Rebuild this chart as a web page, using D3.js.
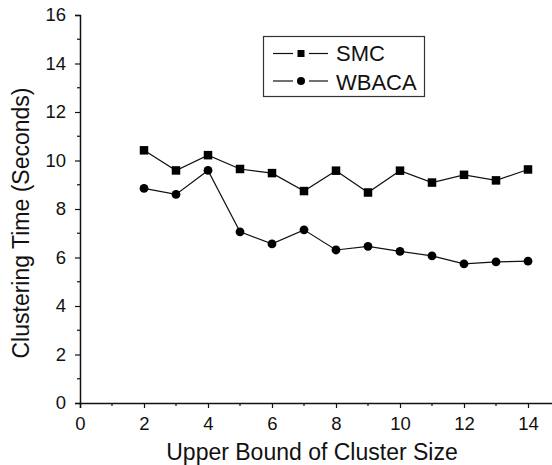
<!DOCTYPE html>
<html>
<head>
<meta charset="utf-8">
<script src="https://cdn.jsdelivr.net/npm/d3@7/dist/d3.min.js"></script>
<style>
  html, body { margin: 0; padding: 0; background: #fff; }
  svg { display: block; font-family: "Liberation Sans", Arial, sans-serif; }
</style>
</head>
<body>
<svg id="chart" width="552" height="465"></svg>
<script>
// Upper bound of cluster size (x) and clustering time in seconds for each method
const clusterSizes = [2, 3, 4, 5, 6, 7, 8, 9, 10, 11, 12, 13, 14];
const smcTimes   = [10.42, 9.59, 10.22, 9.65, 9.48, 8.74, 9.58, 8.68, 9.58, 9.09, 9.41, 9.18, 9.63];
const wbacaTimes = [8.85, 8.60, 9.59, 7.06, 6.56, 7.14, 6.31, 6.46, 6.25, 6.07, 5.74, 5.82, 5.85];
const seriesNames = ["SMC", "WBACA"];
const xTicks = [0, 2, 4, 6, 8, 10, 12, 14];
const yTicks = [0, 2, 4, 6, 8, 10, 12, 14, 16];

const svg = d3.select("#chart");
const plotLeft = 80, plotTop = 15, plotBottom = 403;

const x = d3.scaleLinear().domain([0, 15]).range([plotLeft, 560]);
const y = d3.scaleLinear().domain([0, 16]).range([plotBottom, plotTop]);

const ink = "#111";

// Y axis: major ticks with labels, minor ticks in between
const yAxis = svg.append("g").attr("transform", `translate(${plotLeft},0)`)
  .call(d3.axisLeft(y).tickValues(yTicks).tickSize(5).tickPadding(9).tickFormat(d3.format("d")));
yAxis.append("g").attr("class", "minor").selectAll("line")
  .data(d3.range(1, 16, 2)).join("line")
  .attr("x1", -3).attr("x2", 0).attr("y1", d => y(d)).attr("y2", d => y(d));

// X axis
const xAxis = svg.append("g").attr("transform", `translate(0,${plotBottom})`)
  .call(d3.axisBottom(x).tickValues(xTicks).tickSize(5).tickPadding(9).tickFormat(d3.format("d")));
xAxis.append("g").attr("class", "minor").selectAll("line")
  .data(d3.range(1, 15, 2)).join("line")
  .attr("y1", 0).attr("y2", 3).attr("x1", d => x(d)).attr("x2", d => x(d));

svg.selectAll(".domain").attr("stroke", ink).attr("stroke-width", 1.5);
svg.selectAll(".tick line, .minor line").attr("stroke", ink).attr("stroke-width", 1.2);
svg.selectAll(".tick text").attr("font-size", 18.5).attr("fill", ink)
  .attr("font-family", "'Liberation Sans', Arial, sans-serif");

// Axis titles
svg.append("text")
  .attr("x", 312).attr("y", 460)
  .attr("text-anchor", "middle").attr("font-size", 23).attr("fill", ink)
  .text("Upper Bound of Cluster Size");
svg.append("text")
  .attr("transform", "translate(29,223) rotate(-90)")
  .attr("text-anchor", "middle").attr("font-size", 23).attr("fill", ink)
  .text("Clustering Time (Seconds)");

// Series lines and markers
const line = d3.line().x(d => x(d[0])).y(d => y(d[1]));
const smcData = clusterSizes.map((c, i) => [c, smcTimes[i]]);
const wbacaData = clusterSizes.map((c, i) => [c, wbacaTimes[i]]);

[smcData, wbacaData].forEach(data => {
  svg.append("path").datum(data)
    .attr("d", line).attr("fill", "none")
    .attr("stroke", ink).attr("stroke-width", 1.2);
});

const sq = 8.5;
svg.append("g").selectAll("rect").data(smcData).join("rect")
  .attr("x", d => x(d[0]) - sq / 2).attr("y", d => y(d[1]) - sq / 2)
  .attr("width", sq).attr("height", sq).attr("fill", "#000");

svg.append("g").selectAll("circle").data(wbacaData).join("circle")
  .attr("cx", d => x(d[0])).attr("cy", d => y(d[1])).attr("r", 4.4).attr("fill", "#000");

// Legend
const legend = svg.append("g");
legend.append("rect")
  .attr("x", 263.5).attr("y", 36.5).attr("width", 161).attr("height", 60)
  .attr("fill", "none").attr("stroke", "#333").attr("stroke-width", 1.2);
const legendY = [53.5, 81];
seriesNames.forEach((name, i) => {
  const g = legend.append("g").attr("transform", `translate(0,${legendY[i]})`);
  g.append("line").attr("x1", 273).attr("x2", 293).attr("y1", 0).attr("y2", 0)
    .attr("stroke", ink).attr("stroke-width", 1.2);
  g.append("line").attr("x1", 309).attr("x2", 328).attr("y1", 0).attr("y2", 0)
    .attr("stroke", ink).attr("stroke-width", 1.2);
  if (i === 0) {
    g.append("rect").attr("x", 301 - 3.5).attr("y", -3.5).attr("width", 7).attr("height", 7).attr("fill", "#000");
  } else {
    g.append("circle").attr("cx", 301).attr("cy", 0).attr("r", 4).attr("fill", "#000");
  }
  g.append("text").attr("x", 336).attr("y", i === 0 ? 7.5 : 8.5)
    .attr("font-size", 22).attr("fill", ink).text(name);
});
</script>
</body>
</html>
